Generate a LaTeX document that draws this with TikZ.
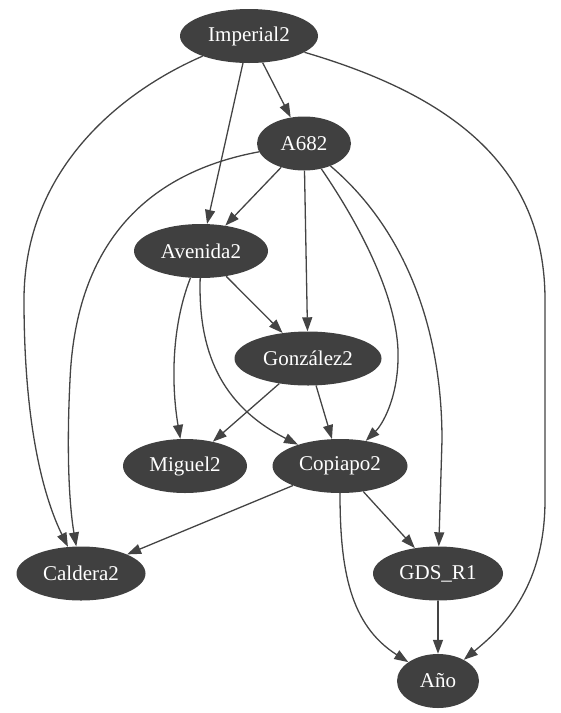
\documentclass[tikz,border=0pt]{standalone}
\usepackage{fontspec}
\setmainfont{Liberation Serif}
\newfontfamily\nodefont{Liberation Serif}
\usetikzlibrary{shapes.geometric,arrows.meta}
\definecolor{nodegray}{HTML}{404040}
\definecolor{edgegray}{HTML}{444444}
\tikzset{
  gnode/.style={ellipse, fill=nodegray, draw=none, inner sep=0pt, minimum height=54pt,
    text=white, font=\nodefont\fontsize{21}{24}\selectfont},
  edge/.style={draw=edgegray, line width=1.3pt, -{Triangle[length=14pt,width=10pt]}}
}
\begin{document}
\begin{tikzpicture}[x=1pt,y=-1pt]
\useasboundingbox (0,0) rectangle (561,713);
\node[gnode, minimum width=138pt] (imp) at (249,36) {Imperial2};
\node[gnode, minimum width=94pt] (a682) at (304,143.5) {A682};
\node[gnode, minimum width=134pt] (ave) at (201,251) {Avenida2};
\node[gnode, minimum width=147pt] (gon) at (308,358.5) {González2};
\node[gnode, minimum width=124pt] (mig) at (185,466) {Miguel2};
\node[gnode, minimum width=135pt] (cop) at (340,466) {Copiapo2};
\node[gnode, minimum width=129pt] (cal) at (81,573.5) {Caldera2};
\node[gnode, minimum width=130pt] (gds) at (438,573.5) {GDS\_R1};
\node[gnode, minimum width=82pt] (ano) at (438,681) {Año};

% straight edges
\draw[edge] (imp) -- (a682);
\draw[edge] (imp) -- (ave);
\draw[edge] (a682) -- (ave);
\draw[edge] (a682) -- (gon);
\draw[edge] (ave) -- (gon);
\draw[edge] (gon) -- (mig);
\draw[edge] (gon) -- (cop);
\draw[edge] (cop) -- (cal);
\draw[edge] (cop) -- (gds);
\draw[edge] (gds) -- (ano);

% curved edges
\draw[edge] (imp) .. controls (120,92) and (24,170) .. (24,300)
  .. controls (24,430) and (45,500) .. (cal);
\draw[edge] (a682) .. controls (150,172) and (76,240) .. (70,380)
  .. controls (66,460) and (70,510) .. (cal);
\draw[edge] (imp) .. controls (450,95) and (545,165) .. (545,300)
  -- (545,500) .. controls (545,590) and (500,630) .. (ano);
\draw[edge] (a682) .. controls (370,240) and (400,310) .. (398,360)
  .. controls (397,400) and (382,425) .. (cop);
\draw[edge] (a682) .. controls (400,225) and (442,320) .. (442,440)
  -- (gds);
\draw[edge] (ave) .. controls (170,330) and (172,390) .. (mig);
\draw[edge] (ave) .. controls (198,350) and (220,405) .. (cop);
\draw[edge] (cop) .. controls (340,570) and (350,625) .. (ano);
\end{tikzpicture}
\end{document}
